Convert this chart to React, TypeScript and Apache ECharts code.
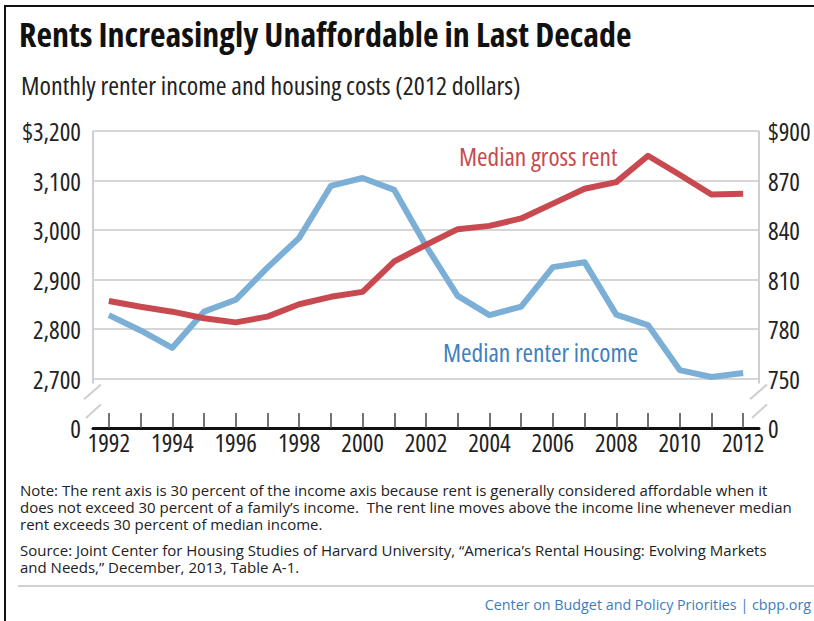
import React, { useEffect, useRef } from "react";
import * as echarts from "echarts";

const years = [
  "1992", "1993", "1994", "1995", "1996", "1997", "1998", "1999", "2000", "2001",
  "2002", "2003", "2004", "2005", "2006", "2007", "2008", "2009", "2010", "2011", "2012",
];
// Median renter income (left axis, 2012 dollars)
const income = [
  2828, 2797, 2762, 2835, 2859, 2924, 2984, 3089, 3105, 3081,
  2968, 2867, 2828, 2845, 2925, 2935, 2829, 2808, 2717, 2703, 2711,
];
// Median gross rent (right axis, 2012 dollars)
const rent = [
  797, 793.5, 790.5, 786.5, 784, 787.5, 795, 799.5, 802.5, 821,
  831, 840.5, 842.5, 847, 856, 865, 869, 885, 873.5, 861.5, 862,
];
const incomeTickValues = [2600, 2700, 2800, 2900, 3000, 3100, 3200];
const incomeTickLabels = ["0", "2,700", "2,800", "2,900", "3,000", "3,100", "$3,200"];
const rentTickValues = [720, 750, 780, 810, 840, 870, 900];
const rentTickLabels = ["0", "750", "780", "810", "840", "870", "$900"];

const title = "Rents Increasingly Unaffordable in Last Decade";
const subtitle = "Monthly renter income and housing costs (2012 dollars)";
const rentLabel = "Median gross rent";
const incomeLabel = "Median renter income";
const noteLines = [
  "Note: The rent axis is 30 percent of the income axis because rent is generally considered affordable when it",
  "does not exceed 30 percent of a family\u2019s income.  The rent line moves above the income line whenever median",
  "rent exceeds 30 percent of median income.",
];
const sourceLines = [
  "Source: Joint Center for Housing Studies of Harvard University, \u201cAmerica\u2019s Rental Housing: Evolving Markets",
  "and Needs,\u201d December, 2013, Table A-1.",
];
const footer = "Center on Budget and Policy Priorities | cbpp.org";

const FONT_C = '"Open Sans"; font-stretch: condensed';
const FONT_N = '"Open Sans"';
const RED = "#c84a50";
const BLUE = "#7bafd6";

export default function App() {
  const ref = useRef<HTMLDivElement>(null);
  useEffect(() => {
    if (!ref.current) return;
    const chart = echarts.init(ref.current, null, { renderer: "svg" });
    const option: any = {
      animation: false,
      backgroundColor: "#ffffff",
      textStyle: { fontFamily: FONT_C },
      grid: { left: 93, right: 55, top: 131, bottom: 193, containLabel: false },
      xAxis: {
        type: "category",
        data: years,
        boundaryGap: true,
        axisLine: { show: true, lineStyle: { color: "#111", width: 3 } },
        axisTick: { show: true, inside: true, length: 15, alignWithLabel: true, interval: 0, lineStyle: { color: "#444", width: 1.5 } },
        axisLabel: { interval: 1, fontSize: 25, color: "#222", margin: 9, fontFamily: FONT_C },
        splitLine: { show: false },
      },
      yAxis: [
        {
          type: "value",
          min: 2600,
          max: 3200,
          interval: 100,
          axisLine: { show: false },
          axisTick: { show: false },
          axisLabel: {
            fontSize: 25,
            color: "#222",
            margin: 12,
            fontFamily: FONT_C,
            formatter: (v: number) => {
              const i = incomeTickValues.indexOf(Math.round(v));
              return i >= 0 ? incomeTickLabels[i] : "";
            },
          },
          splitLine: { show: true, lineStyle: { color: "#d6d6d6", width: 2 } },
        },
        {
          type: "value",
          min: 720,
          max: 900,
          interval: 30,
          position: "right",
          axisLine: { show: false },
          axisTick: { show: false },
          axisLabel: {
            fontSize: 25,
            color: "#222",
            margin: 9,
            fontFamily: FONT_C,
            formatter: (v: number) => {
              const i = rentTickValues.indexOf(Math.round(v));
              return i >= 0 ? rentTickLabels[i] : "";
            },
          },
          splitLine: { show: false },
        },
      ],
      series: [
        {
          name: incomeLabel,
          type: "line",
          yAxisIndex: 0,
          data: income,
          symbol: "none",
          lineStyle: { color: BLUE, width: 6, join: "round" },
          z: 3,
        },
        {
          name: rentLabel,
          type: "line",
          yAxisIndex: 1,
          data: rent,
          symbol: "none",
          lineStyle: { color: RED, width: 6, join: "round" },
          z: 4,
        },
      ],
    };
    chart.setOption(option);

    const yTop = chart.convertToPixel({ yAxisIndex: 0 }, 3200) as number;
    const yBreakTop = chart.convertToPixel({ yAxisIndex: 0 }, 2700) as number;
    const yBase = chart.convertToPixel({ yAxisIndex: 0 }, 2600) as number;
    const xLeft = 93;
    const xRight = 814 - 55;
    const gap = yBase - yBreakTop;
    const axisStyle = { stroke: "#cfcfcf", lineWidth: 2 };
    const slashes = (ax: number) => [
      { type: "line", shape: { x1: ax - 9, y1: yBreakTop + gap * 0.42, x2: ax + 8, y2: yBreakTop + gap * 0.12 }, style: axisStyle },
      { type: "line", shape: { x1: ax - 7, y1: yBreakTop + gap * 0.8, x2: ax + 8, y2: yBreakTop + gap * 0.52 }, style: axisStyle },
    ];

    const graphic: any[] = [
      { type: "line", shape: { x1: 5, y1: 6, x2: 5, y2: 621 }, style: { stroke: "#111", lineWidth: 2 } },
      { type: "line", shape: { x1: 4, y1: 6, x2: 814, y2: 6 }, style: { stroke: "#111", lineWidth: 2 } },
      { type: "line", shape: { x1: xLeft, y1: yTop, x2: xLeft, y2: yBreakTop + 5 }, style: axisStyle },
      { type: "line", shape: { x1: xRight, y1: yTop, x2: xRight, y2: yBreakTop + 5 }, style: axisStyle },
      ...slashes(xLeft),
      ...slashes(xRight),
      {
        type: "text", x: 19, y: 34,
        style: { text: title, fontFamily: FONT_C, fontWeight: "bold", fontSize: 34, fill: "#111", textVerticalAlign: "middle" },
      },
      {
        type: "text", x: 21, y: 85,
        style: { text: subtitle, fontFamily: FONT_C, fontSize: 26, fill: "#222", textVerticalAlign: "middle" },
      },
      {
        type: "text", x: 459, y: 156,
        style: { text: rentLabel, fontFamily: FONT_C, fontSize: 25.4, fill: RED, textVerticalAlign: "middle" },
      },
      {
        type: "text", x: 443, y: 352,
        style: { text: incomeLabel, fontFamily: FONT_C, fontSize: 25.4, fill: "#3f80c0", textVerticalAlign: "middle" },
      },
      {
        type: "text", x: 20, y: 481.5,
        style: { text: noteLines.join("\n"), fontFamily: FONT_N, fontSize: 15, lineHeight: 17, fill: "#222", textVerticalAlign: "top" },
      },
      {
        type: "text", x: 20, y: 541.5,
        style: { text: sourceLines.join("\n"), fontFamily: FONT_N, fontSize: 15, lineHeight: 17, fill: "#222", textVerticalAlign: "top" },
      },
      { type: "line", shape: { x1: 18, y1: 586, x2: 814, y2: 586 }, style: { stroke: "#d0d0d0", lineWidth: 2 } },
      {
        type: "text", x: 811, y: 604,
        style: { text: footer, fontFamily: FONT_N, fontSize: 14.3, fill: "#3d7cbd", textAlign: "right", textVerticalAlign: "middle" },
      },
    ];
    chart.setOption({ graphic });

    return () => chart.dispose();
  }, []);
  return (
    <div
      ref={ref}
      style={{ position: "absolute", left: 0, top: 0, width: 814, height: 621, background: "#fff" }}
    />
  );
}
